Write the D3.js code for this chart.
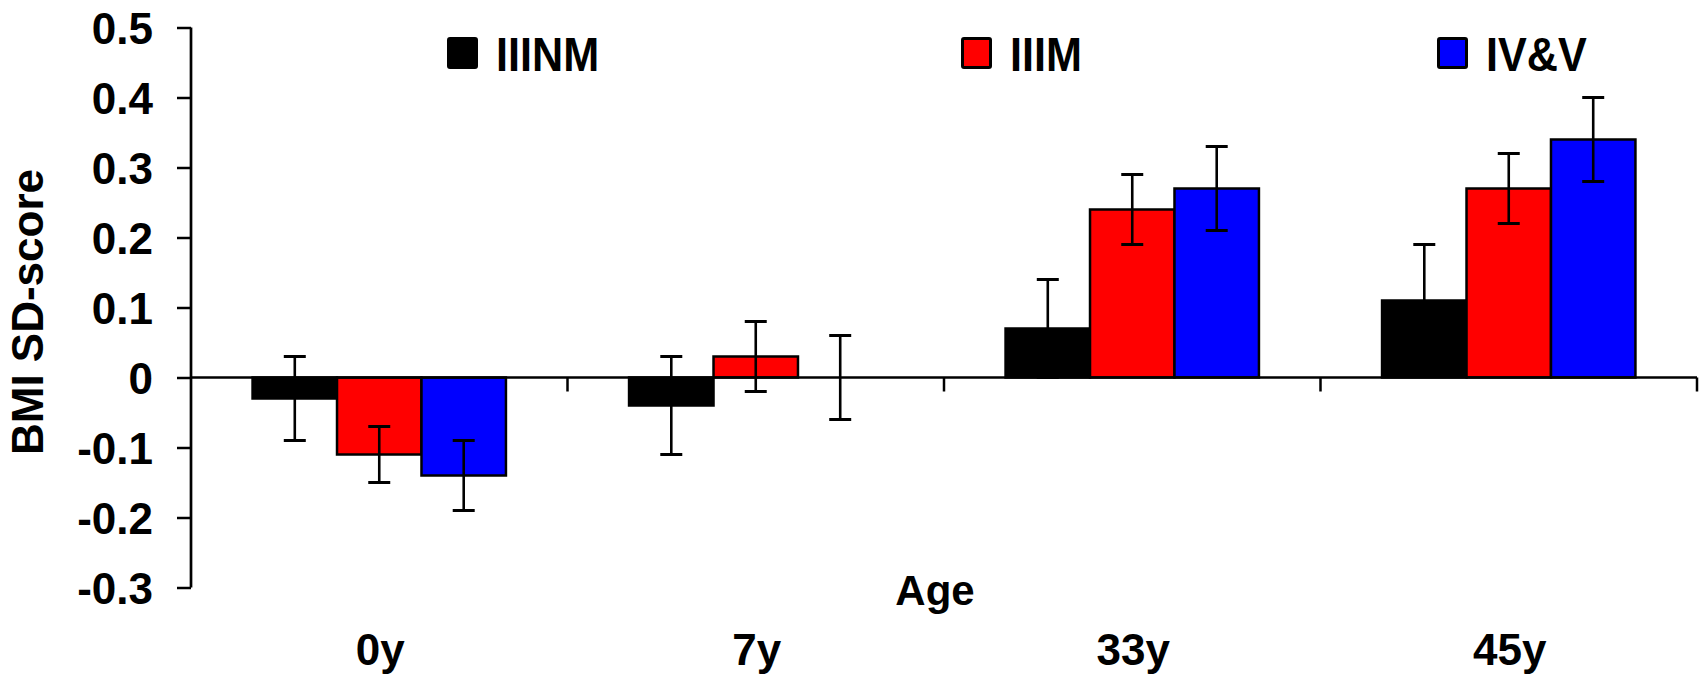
<!DOCTYPE html>
<html>
<head>
<meta charset="utf-8">
<script src="https://cdn.jsdelivr.net/npm/d3@7"></script>
<style>
  html, body { margin: 0; padding: 0; background: #fff; }
  svg { display: block; }
  text { font-family: "Liberation Sans", Arial, Helvetica, sans-serif; font-weight: bold; fill: #000; }
</style>
</head>
<body>
<svg id="chart" width="1704" height="677"></svg>
<script>
// Age groups on the category axis
const categories = ["0y", "7y", "33y", "45y"];
// Social class groups
const seriesNames = ["IIINM", "IIIM", "IV&V"];
const seriesColors = ["#000000", "#ff0000", "#0000ff"];

// Mean BMI SD-score per age, by social class
const valuesIIINM = [-0.03, -0.04, 0.07, 0.11];
const valuesIIIM  = [-0.11, 0.03, 0.24, 0.27];
const valuesIVV   = [-0.14, 0.00, 0.27, 0.34];

// Half-width of the error bars
const errIIINM = [0.06, 0.07, 0.07, 0.08];
const errIIIM  = [0.04, 0.05, 0.05, 0.05];
const errIVV   = [0.05, 0.06, 0.06, 0.06];

const yTicks = [0.5, 0.4, 0.3, 0.2, 0.1, 0, -0.1, -0.2, -0.3];
const yTickLabels = ["0.5", "0.4", "0.3", "0.2", "0.1", "0", "-0.1", "-0.2", "-0.3"];

const seriesValues = [valuesIIINM, valuesIIIM, valuesIVV];
const seriesErrors = [errIIINM, errIIIM, errIVV];

const rows = [];
categories.forEach((c, ci) => {
  seriesNames.forEach((s, si) => {
    rows.push({ cat: c, series: s, si, value: seriesValues[si][ci], err: seriesErrors[si][ci] });
  });
});

const svg = d3.select("#chart");

const plotLeft = 191, plotRight = 1697;
const y = d3.scaleLinear().domain([-0.3, 0.5]).range([587.5, 27.5]);
const x0 = d3.scaleBand().domain(categories).range([plotLeft, plotRight]).padding(0);
const groupWidth = x0.bandwidth() * 0.673;
const x1 = d3.scaleBand().domain(seriesNames).range([0, groupWidth]).padding(0);
const groupOffset = (x0.bandwidth() - groupWidth) / 2;

// Bars
svg.append("g").selectAll("rect")
  .data(rows)
  .join("rect")
  .attr("x", d => x0(d.cat) + groupOffset + x1(d.series))
  .attr("y", d => y(Math.max(0, d.value)))
  .attr("width", x1.bandwidth())
  .attr("height", d => Math.abs(y(d.value) - y(0)))
  .attr("fill", d => seriesColors[d.si])
  .attr("stroke", "#000")
  .attr("stroke-width", 2.5);

// Horizontal axis through zero
const xAxisG = svg.append("g").attr("transform", `translate(0,${y(0)})`);
xAxisG.append("line")
  .attr("x1", plotLeft).attr("x2", plotRight)
  .attr("y1", 0).attr("y2", 0)
  .attr("stroke", "#000").attr("stroke-width", 2.6);
xAxisG.selectAll("line.tick")
  .data(categories)
  .join("line")
  .attr("class", "tick")
  .attr("x1", d => x0(d) + x0.bandwidth())
  .attr("x2", d => x0(d) + x0.bandwidth())
  .attr("y1", 0).attr("y2", 14)
  .attr("stroke", "#000").attr("stroke-width", 2.5);

// Error bars
const cap = 11;
const eb = svg.append("g").attr("stroke", "#000").attr("stroke-width", 2.6);
rows.forEach(d => {
  const cx = x0(d.cat) + groupOffset + x1(d.series) + x1.bandwidth() / 2;
  const yt = y(d.value + d.err), yb = y(d.value - d.err);
  eb.append("line").attr("x1", cx).attr("x2", cx).attr("y1", yt).attr("y2", yb);
  eb.append("line").attr("x1", cx - cap).attr("x2", cx + cap).attr("y1", yt).attr("y2", yt).attr("stroke-width", 3);
  eb.append("line").attr("x1", cx - cap).attr("x2", cx + cap).attr("y1", yb).attr("y2", yb).attr("stroke-width", 3);
});

// Vertical axis
const yAxis = d3.axisLeft(y).tickValues(yTicks).tickSize(14)
  .tickFormat((d, i) => yTickLabels[i]);
const yAxisG = svg.append("g").attr("transform", `translate(${plotLeft},0)`).call(yAxis);
yAxisG.select(".domain").attr("stroke", "#000").attr("stroke-width", 2.7).attr("d", `M0,${y(0.5)}V${y(-0.3)}`);
yAxisG.selectAll(".tick line").attr("stroke", "#000").attr("stroke-width", 2.5);
yAxisG.selectAll(".tick text")
  .attr("x", -38)
  .attr("dy", "0.36em")
  .style("font-size", "44px")
  .style("font-family", "'Liberation Sans', Arial, sans-serif")
  .style("font-weight", "bold")
  .attr("fill", "#000");

// Category labels
svg.append("g").selectAll("text")
  .data(categories)
  .join("text")
  .attr("x", d => x0(d) + x0.bandwidth() / 2 + 1)
  .attr("y", 665)
  .attr("text-anchor", "middle")
  .style("font-size", "44px")
  .text(d => d);

// Axis titles
svg.append("text")
  .attr("x", 935).attr("y", 605)
  .attr("text-anchor", "middle")
  .style("font-size", "42px")
  .text("Age");

svg.append("text")
  .attr("transform", "translate(43,312) rotate(-90)")
  .attr("text-anchor", "middle")
  .style("font-size", "44px")
  .text("BMI SD-score");

// Legend
const legendX = [447, 961, 1437];
const legend = svg.append("g");
seriesNames.forEach((s, i) => {
  legend.append("rect")
    .attr("x", legendX[i] + 1.5).attr("y", 38.5)
    .attr("width", 28).attr("height", 29)
    .attr("rx", 1.5)
    .attr("fill", seriesColors[i])
    .attr("stroke", "#000").attr("stroke-width", 3);
  legend.append("text")
    .attr("transform", `translate(${legendX[i] + 49},71) scale(0.96,1.05)`)
    .style("font-size", "45px")
    .text(s);
});
</script>
</body>
</html>
